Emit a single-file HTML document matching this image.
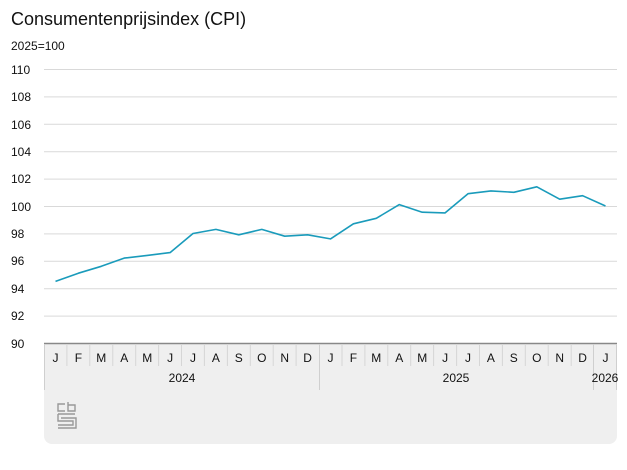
<!DOCTYPE html>
<html><head><meta charset="utf-8"><style>
body{margin:0;background:#fff;}
svg{display:block;font-family:"Liberation Sans",sans-serif;}
</style></head><body>
<svg width="627" height="470" viewBox="0 0 627 470" xmlns="http://www.w3.org/2000/svg">
<text x="11" y="25" font-size="18" fill="#111">Consumentenprijsindex (CPI)</text>
<text x="11" y="50" font-size="12" fill="#111">2025=100</text>
<g stroke="#d9d9d9" stroke-width="1">
<line x1="44" x2="617" y1="69.5" y2="69.5"/><line x1="44" x2="617" y1="96.9" y2="96.9"/>
<line x1="44" x2="617" y1="124.3" y2="124.3"/><line x1="44" x2="617" y1="151.7" y2="151.7"/>
<line x1="44" x2="617" y1="179.1" y2="179.1"/><line x1="44" x2="617" y1="206.5" y2="206.5"/>
<line x1="44" x2="617" y1="233.9" y2="233.9"/><line x1="44" x2="617" y1="261.3" y2="261.3"/>
<line x1="44" x2="617" y1="288.7" y2="288.7"/><line x1="44" x2="617" y1="316.1" y2="316.1"/>
</g>
<g font-size="12" fill="#111">
<text x="11" y="74">110</text><text x="11" y="101">108</text><text x="11" y="129">106</text>
<text x="11" y="156">104</text><text x="11" y="183">102</text><text x="11" y="211">100</text>
<text x="11" y="238">98</text><text x="11" y="265">96</text><text x="11" y="293">94</text>
<text x="11" y="320">92</text><text x="11" y="348">90</text>
</g>
<path d="M44 343 H617 V436 a8 8 0 0 1 -8 8 H52 a8 8 0 0 1 -8 -8 Z" fill="#efefef"/>
<line x1="44" x2="617" y1="343.5" y2="343.5" stroke="#888" stroke-width="1.5"/>
<g stroke="#cfcfcf" stroke-width="1">
<line x1="44.5" x2="44.5" y1="344" y2="390"/><line x1="319.5" x2="319.5" y1="344" y2="390"/>
<line x1="593.5" x2="593.5" y1="344" y2="390"/><line x1="616.5" x2="616.5" y1="344" y2="390"/>
</g>
<g stroke="#d6d6d6" stroke-width="1">
<path d="M66.9 344V366M89.8 344V366M112.8 344V366M135.7 344V366M158.6 344V366M181.5 344V366M204.4 344V366M227.4 344V366M250.3 344V366M273.2 344V366M296.1 344V366M342 344V366M364.9 344V366M387.8 344V366M410.7 344V366M433.6 344V366M456.6 344V366M479.5 344V366M502.4 344V366M525.3 344V366M548.2 344V366M571.2 344V366"/>
</g>
<g font-size="12" fill="#111" text-anchor="middle">
<text x="55.5" y="362">J</text><text x="78.4" y="362">F</text><text x="101.3" y="362">M</text><text x="124.2" y="362">A</text><text x="147.2" y="362">M</text><text x="170.1" y="362">J</text><text x="193" y="362">J</text><text x="215.9" y="362">A</text><text x="238.8" y="362">S</text><text x="261.8" y="362">O</text><text x="284.7" y="362">N</text><text x="307.6" y="362">D</text>
<text x="330.5" y="362">J</text><text x="353.4" y="362">F</text><text x="376.3" y="362">M</text><text x="399.3" y="362">A</text><text x="422.2" y="362">M</text><text x="445.1" y="362">J</text><text x="468" y="362">J</text><text x="490.9" y="362">A</text><text x="513.8" y="362">S</text><text x="536.8" y="362">O</text><text x="559.7" y="362">N</text><text x="582.6" y="362">D</text><text x="605.5" y="362">J</text>
<text x="182" y="382">2024</text><text x="456" y="382">2025</text><text x="605" y="382">2026</text>
</g>
<g fill="none" stroke="#999" stroke-width="1.4">
<path d="M65 404 H58 V411 H65 M68 402 V411 H75 V405 H68 M58 414 H75 M58 414 V421 H73 V425 H58 M58 428 H76 V418 H61"/>
</g>
<polyline fill="none" stroke="#1a9bbb" stroke-width="1.6" stroke-linejoin="round" points="55.5,281.4 78.4,273.2 101.3,266.3 124.2,258.1 147.2,255.4 170.1,252.6 193,233.5 215.9,229.4 238.8,234.8 261.8,229.4 284.7,236.2 307.6,234.8 330.5,238.9 353.4,223.8 376.3,218.3 399.3,204.6 422.2,212.2 445.1,212.9 468,193.7 490.9,190.9 513.8,192.3 536.8,186.8 559.7,199.2 582.6,195.7 605.5,206.0"/>
</svg>
</body></html>
